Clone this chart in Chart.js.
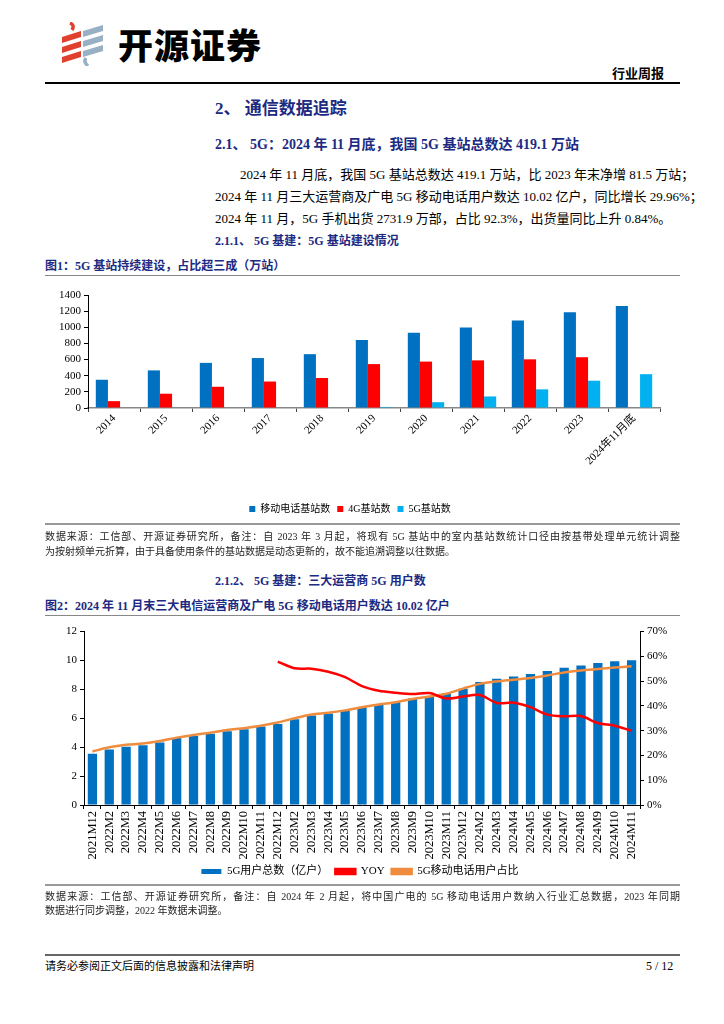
<!DOCTYPE html>
<html>
<head>
<meta charset="utf-8">
<script src="https://cdn.jsdelivr.net/npm/chart.js@4/dist/chart.umd.min.js"></script>
<style>
  body { margin: 0; background: #fff; width: 724px; height: 1024px; position: relative; overflow: hidden;
         font-family: 'Liberation Serif', 'Noto Sans CJK SC', serif; color: #000; }
  .t { position: absolute; white-space: nowrap; }
  .navy { color: #1c2a82; font-weight: bold; }
  .rule { position: absolute; left: 45px; width: 635px; }
  .just { text-align: justify; text-align-last: justify; }
  .box { position: absolute; }
</style>
</head>
<body>
<svg class="box" style="left:60px;top:22px" width="46" height="44" viewBox="0 0 46 44">
  <path d="M10 1 q5 2 2 7" stroke="#e0412f" stroke-width="3.5" fill="none"/>
  <polygon points="2,15 21,9 21,15 2,21" fill="#e0412f"/>
  <polygon points="2,25 21,19 21,25 2,31" fill="#e0412f"/>
  <polygon points="2,35 21,29 21,35 2,41" fill="#e0412f"/>
  <polygon points="23,9 43,3 43,9 23,15" fill="#98b0c4"/>
  <polygon points="23,19 43,13 43,19 23,25" fill="#98b0c4"/>
  <polygon points="23,29 43,23 43,29 23,35" fill="#98b0c4"/>
  <path d="M26 36 q-3 4 2 8" stroke="#98b0c4" stroke-width="3.5" fill="none"/>
</svg>
<div class="t" style="left:118px;top:22px;font-family:'Noto Sans CJK SC';font-weight:900;font-size:35px;line-height:44px;letter-spacing:1px">开源证券</div>
<div class="t" style="left:612px;top:66px;font-size:13px;font-weight:bold;line-height:16px">行业周报</div>
<div class="rule" style="top:82px;height:1.5px;background:#000"></div>

<div class="t navy" style="left:215px;top:98px;font-size:17px;line-height:22px">2、 通信数据追踪</div>
<div class="t navy" style="left:215px;top:136px;font-size:14px;line-height:18px">2.1、 5G：2024 年 11 月底，我国 5G 基站总数达 419.1 万站</div>
<div class="t just" style="left:240px;width:440px;top:166px;font-size:13px;line-height:18px">2024 年 11 月底，我国 5G 基站总数达 419.1 万站，比 2023 年末净增 81.5 万站；</div>
<div class="t just" style="left:215px;width:465px;top:188px;font-size:13px;line-height:18px">2024 年 11 月三大运营商及广电 5G 移动电话用户数达 10.02 亿户，同比增长 29.96%；</div>
<div class="t" style="left:215px;top:210px;font-size:13px;line-height:18px">2024 年 11 月，5G 手机出货 2731.9 万部，占比 92.3%，出货量同比上升 0.84%。</div>
<div class="t navy" style="left:215px;top:233px;font-size:12px;line-height:16px">2.1.1、 5G 基建：5G 基站建设情况</div>
<div class="t navy" style="left:45px;top:258px;font-size:12px;line-height:16px">图1：5G 基站持续建设，占比超三成（万站）</div>
<div class="rule" style="top:275px;height:1px;background:#888"></div>

<div class="box" style="left:40px;top:285px;width:640px;height:239px"><canvas id="c1"></canvas></div>

<div class="rule" style="top:523px;height:2px;background:#999"></div>
<div class="t just" style="left:45px;width:635px;top:530px;font-size:10px;line-height:14px;color:#222">数据来源：工信部、开源证券研究所，备注：自 2023 年 3 月起，将现有 5G 基站中的室内基站数统计口径由按基带处理单元统计调整</div>
<div class="t" style="left:45px;top:545px;font-size:10px;line-height:14px;color:#222">为按射频单元折算，由于具备使用条件的基站数据是动态更新的，故不能追溯调整以往数据。</div>

<div class="t navy" style="left:215px;top:573px;font-size:12px;line-height:16px">2.1.2、 5G 基建：三大运营商 5G 用户数</div>
<div class="t navy" style="left:45px;top:598px;font-size:12px;line-height:16px">图2：2024 年 11 月末三大电信运营商及广电 5G 移动电话用户数达 10.02 亿户</div>
<div class="rule" style="top:615px;height:1px;background:#888"></div>

<div class="box" style="left:40px;top:622px;width:640px;height:265px"><canvas id="c2"></canvas></div>

<div class="rule" style="top:884px;height:2px;background:#999"></div>
<div class="t just" style="left:45px;width:635px;top:890px;font-size:10px;line-height:14px;color:#222">数据来源：工信部、开源证券研究所，备注：自 2024 年 2 月起，将中国广电的 5G 移动电话用户数纳入行业汇总数据，2023 年同期</div>
<div class="t" style="left:45px;top:904px;font-size:10px;line-height:14px;color:#222">数据进行同步调整，2022 年数据未调整。</div>

<div class="rule" style="top:954px;height:2px;background:#666"></div>
<div class="t" style="left:45px;top:958px;font-size:11px;line-height:16px">请务必参阅正文后面的信息披露和法律声明</div>
<div class="t" style="left:646px;top:958px;font-size:12px;line-height:16px">5 / 12</div>

<script>
const FONT = "'Liberation Serif', 'Noto Sans CJK SC', serif";
Chart.defaults.font.family = FONT;
Chart.defaults.color = '#000';

// 图1 数据（万站）
const years = ['2014', '2015', '2016', '2017', '2018', '2019', '2020', '2021', '2022', '2023', '2024年11月底'];
const mobileStations = [350, 466, 559, 619, 667, 841, 931, 996, 1083, 1185, 1265];
const stations4G = [85, 177, 263, 328, 372, 544, 575, 590, 603, 629, null];
const stations5G = [null, null, null, null, null, 13, 72, 143, 231, 338, 419];

// 图2 数据
const months = ['2021M12', '2022M2', '2022M3', '2022M4', '2022M5', '2022M6', '2022M7', '2022M8', '2022M9', '2022M10', '2022M11',
  '2022M12', '2023M2', '2023M3', '2023M4', '2023M5', '2023M6', '2023M7', '2023M8', '2023M9', '2023M10', '2023M11',
  '2023M12', '2024M2', '2024M3', '2024M4', '2024M5', '2024M6', '2024M7', '2024M8', '2024M9', '2024M10', '2024M11'];
const users5G = [3.55, 3.84, 4.03, 4.13, 4.33, 4.63, 4.78, 4.93, 5.10, 5.24, 5.43,
  5.61, 5.93, 6.20, 6.34, 6.51, 6.76, 6.98, 7.12, 7.37, 7.54, 7.71,
  8.05, 8.51, 8.74, 8.89, 9.06, 9.27, 9.50, 9.66, 9.82, 9.94, 10.02];
const yoy = [null, null, null, null, null, null, null, null, null, null, null,
  57.9, 55.2, 55.0, 53.8, 51.6, 48.0, 46.1, 45.3, 44.8, 45.2, 43.0,
  43.8, 44.4, 41.2, 41.3, 39.5, 36.5, 35.8, 35.9, 33.1, 32.0, 29.96];
const share5G = [21.6, 23.3, 24.3, 24.8, 25.8, 27.2, 28.3, 29.2, 30.3, 31.0, 32.0,
  33.3, 35.0, 36.5, 37.2, 38.2, 39.5, 40.6, 41.5, 42.8, 43.8, 44.9,
  47.0, 48.9, 49.9, 50.6, 51.3, 52.3, 53.5, 54.3, 54.9, 55.5, 56.0];

new Chart(document.getElementById('c1'), {
  type: 'bar',
  data: {
    labels: years,
    datasets: [
      { label: '移动电话基站数', data: mobileStations, backgroundColor: '#0070c0' },
      { label: '4G基站数', data: stations4G, backgroundColor: '#ff0000' },
      { label: '5G基站数', data: stations5G, backgroundColor: '#00b0f0' }
    ]
  },
  options: {
    responsive: true,
    maintainAspectRatio: false,
    animation: false,
    layout: { padding: { top: 10, right: 20, bottom: 0, left: 0 } },
    datasets: { bar: { categoryPercentage: 0.7, barPercentage: 1.0 } },
    plugins: {
      tooltip: { enabled: false },
      legend: {
        position: 'bottom',
        labels: { boxWidth: 6, boxHeight: 6, padding: 7, font: { size: 10 } }
      }
    },
    scales: {
      x: {
        border: { color: '#888', width: 1.5 },
        grid: { drawOnChartArea: false, offset: true, tickLength: 4, color: '#444' },
        ticks: { minRotation: 45, maxRotation: 45, font: { size: 11 }, padding: 0 },
        afterFit: s => { s.height = 89; }
      },
      y: {
        min: 0, max: 1400,
        border: { color: '#000' },
        grid: { drawOnChartArea: false, tickLength: 4, color: '#000' },
        ticks: { stepSize: 200, autoSkip: false, font: { size: 11 }, padding: 3, callback: v => String(v) },
        afterFit: s => { s.width = 48; }
      }
    }
  }
});

new Chart(document.getElementById('c2'), {
  type: 'bar',
  data: {
    labels: months,
    datasets: [
      { label: '5G用户总数（亿户）', data: users5G, backgroundColor: '#0070c0', yAxisID: 'y', order: 3,
        categoryPercentage: 1.0, barPercentage: 0.55 },
      { label: 'YOY', type: 'line', data: yoy, borderColor: '#ff0000', backgroundColor: '#ff0000',
        borderWidth: 2.5, pointRadius: 0, tension: 0.3, yAxisID: 'y1', order: 1 },
      { label: '5G移动电话用户占比', type: 'line', data: share5G, borderColor: '#f08c3e', backgroundColor: '#f08c3e',
        borderWidth: 2.5, pointRadius: 0, tension: 0.3, yAxisID: 'y1', order: 2 }
    ]
  },
  options: {
    responsive: true,
    maintainAspectRatio: false,
    animation: false,
    layout: { padding: { top: 4, right: 0, bottom: 0, left: 0 } },
    plugins: {
      tooltip: { enabled: false },
      legend: {
        position: 'bottom',
        labels: { boxWidth: 20, boxHeight: 5, padding: 7, font: { size: 11 },
          sort: (a, b) => a.datasetIndex - b.datasetIndex }
      }
    },
    scales: {
      x: {
        border: { color: '#000' },
        grid: { drawOnChartArea: false, offset: true, tickLength: 4, color: '#000' },
        ticks: { minRotation: 90, maxRotation: 90, autoSkip: false, font: { size: 12.5 }, padding: 2 },
        afterFit: s => { s.height = 54; }
      },
      y: {
        position: 'left', min: 0, max: 12,
        border: { color: '#000' },
        grid: { drawOnChartArea: false, tickLength: 4, color: '#000' },
        ticks: { stepSize: 2, autoSkip: false, font: { size: 11 }, padding: 3 },
        afterFit: s => { s.width = 44; }
      },
      y1: {
        position: 'right', min: 0, max: 70,
        border: { color: '#000' },
        grid: { drawOnChartArea: false, tickLength: 4, color: '#000' },
        ticks: { stepSize: 10, autoSkip: false, font: { size: 11 }, padding: 3, callback: v => v + '%' },
        afterFit: s => { s.width = 40; }
      }
    }
  }
});
</script>
</body>
</html>
